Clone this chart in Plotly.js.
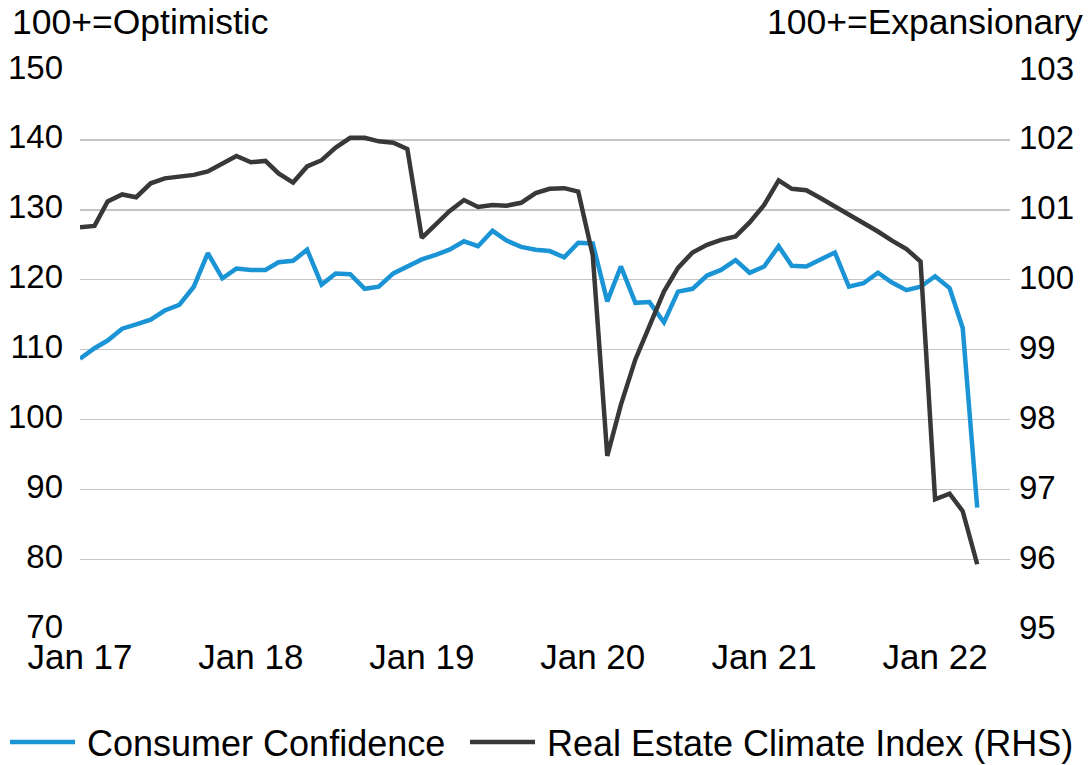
<!DOCTYPE html>
<html>
<head>
<meta charset="utf-8">
<script src="https://cdn.plot.ly/plotly-3.0.1.min.js"></script>
<style>html,body{margin:0;padding:0;background:#fff;}#chart{width:1088px;height:765px;}</style>
</head>
<body>
<div id="chart"></div>
<script>
var months = [
 '2017-01-01','2017-02-01','2017-03-01','2017-04-01','2017-05-01','2017-06-01','2017-07-01','2017-08-01','2017-09-01','2017-10-01','2017-11-01','2017-12-01',
 '2018-01-01','2018-02-01','2018-03-01','2018-04-01','2018-05-01','2018-06-01','2018-07-01','2018-08-01','2018-09-01','2018-10-01','2018-11-01','2018-12-01',
 '2019-01-01','2019-02-01','2019-03-01','2019-04-01','2019-05-01','2019-06-01','2019-07-01','2019-08-01','2019-09-01','2019-10-01','2019-11-01','2019-12-01',
 '2020-01-01','2020-02-01','2020-03-01','2020-04-01','2020-05-01','2020-06-01','2020-07-01','2020-08-01','2020-09-01','2020-10-01','2020-11-01','2020-12-01',
 '2021-01-01','2021-02-01','2021-03-01','2021-04-01','2021-05-01','2021-06-01','2021-07-01','2021-08-01','2021-09-01','2021-10-01','2021-11-01','2021-12-01',
 '2022-01-01','2022-02-01','2022-03-01','2022-04-01'
];
var consumerConfidence = [
 108.7,110.2,111.3,113.0,113.6,114.3,115.6,116.4,119.0,123.8,120.2,121.6,
 121.4,121.4,122.5,122.7,124.3,119.3,120.9,120.8,118.7,119.0,120.9,121.8,
 122.9,123.6,124.3,125.5,124.8,127.0,125.6,124.7,124.3,124.1,123.2,125.3,
 125.2,116.9,121.9,116.7,116.8,113.9,118.3,118.7,120.6,121.4,122.8,121.0,
 121.9,124.8,122.0,121.9,122.9,123.9,119.0,119.5,121.0,119.6,118.5,119.0,
 120.5,118.8,113.1,87.4
];
var realEstateClimate = [
 100.75,100.77,101.12,101.22,101.18,101.38,101.45,101.48,101.50,101.55,101.67,101.77,
 101.68,101.70,101.52,101.39,101.62,101.71,101.89,102.03,102.03,101.98,101.96,101.87,
 100.60,100.79,100.98,101.14,101.04,101.07,101.06,101.10,101.24,101.30,101.31,101.26,
 100.35,97.48,98.21,98.86,99.33,99.83,100.17,100.39,100.50,100.57,100.62,100.82,
 101.07,101.42,101.30,101.28,101.17,101.05,100.94,100.81,100.69,100.56,100.44,100.26,
 96.86,96.94,96.69,95.93
];
var xTickVals = ['2017-01-01','2018-01-01','2019-01-01','2020-01-01','2021-01-01','2022-01-01'];
var xTickText = ['Jan 17','Jan 18','Jan 19','Jan 20','Jan 21','Jan 22'];
var leftTicks = [70,80,90,100,110,120,130,140,150];
var rightTicks = [95,96,97,98,99,100,101,102,103];

var FONT = 'Liberation Sans, Arial, sans-serif';

var traces = [
 {x: months, y: consumerConfidence, name: 'Consumer Confidence', type: 'scatter', mode: 'lines',
  line: {color: '#1b94d6', width: 4.5}, yaxis: 'y', legend: 'legend'},
 {x: months, y: realEstateClimate, name: 'Real Estate Climate Index (RHS)', type: 'scatter', mode: 'lines',
  line: {color: '#383838', width: 4.5}, yaxis: 'y2', legend: 'legend2'}
];

var legendStyle = function(xpos){
 return {orientation: 'h', x: xpos, xanchor: 'left', y: -0.2, yanchor: 'middle',
  font: {family: FONT, size: 36, color: '#000000'}, bgcolor: 'rgba(0,0,0,0)', itemwidth: 72, borderwidth: 0};
};

var layout = {
 width: 1088, height: 765,
 margin: {l: 80, r: 78, t: 70, b: 135, autoexpand: false},
 paper_bgcolor: '#ffffff', plot_bgcolor: '#ffffff',
 font: {family: FONT, size: 33, color: '#000000'},
 showlegend: true,
 legend: legendStyle(-0.0806),
 legend2: legendStyle(0.414),
 xaxis: {type: 'date', range: ['2017-01-01', '2022-06-10'], tickmode: 'array', tickvals: xTickVals, ticktext: xTickText,
  showgrid: false, zeroline: false, showline: false, ticks: '', tickfont: {family: FONT, size: 35}, ticklabelstandoff: 3},
 yaxis: {range: [69.9, 150], tickmode: 'array', tickvals: leftTicks, showgrid: true, gridcolor: '#c4c4c4', gridwidth: 1.5,
  zeroline: false, showline: false, ticks: '', tickfont: {family: FONT, size: 33}, ticklabelstandoff: 16, ticklabelshift: -3},
 yaxis2: {range: [94.99, 103], tickmode: 'array', tickvals: rightTicks, overlaying: 'y', side: 'right', showgrid: false,
  zeroline: false, showline: false, ticks: '', tickfont: {family: FONT, size: 33}, ticklabelstandoff: 8, ticklabelshift: -2},
 annotations: [
  {text: '100+=Optimistic', xref: 'paper', yref: 'paper', x: -0.0753, y: 1.0857, xanchor: 'left', yanchor: 'middle',
   showarrow: false, font: {family: FONT, size: 35.5, color: '#000000'}},
  {text: '100+=Expansionary', xref: 'paper', yref: 'paper', x: 1.0806, y: 1.0857, xanchor: 'right', yanchor: 'middle',
   showarrow: false, font: {family: FONT, size: 35.5, color: '#000000'}}
 ]
};

Plotly.newPlot('chart', traces, layout, {displayModeBar: false, staticPlot: true}).then(function(gd){
 // lengthen legend line samples to match the reference
 var paths = gd.querySelectorAll('.legendlines path');
 for (var i = 0; i < paths.length; i++) { paths[i].setAttribute('d', 'M5,0h65'); }
});
</script>
</body>
</html>
